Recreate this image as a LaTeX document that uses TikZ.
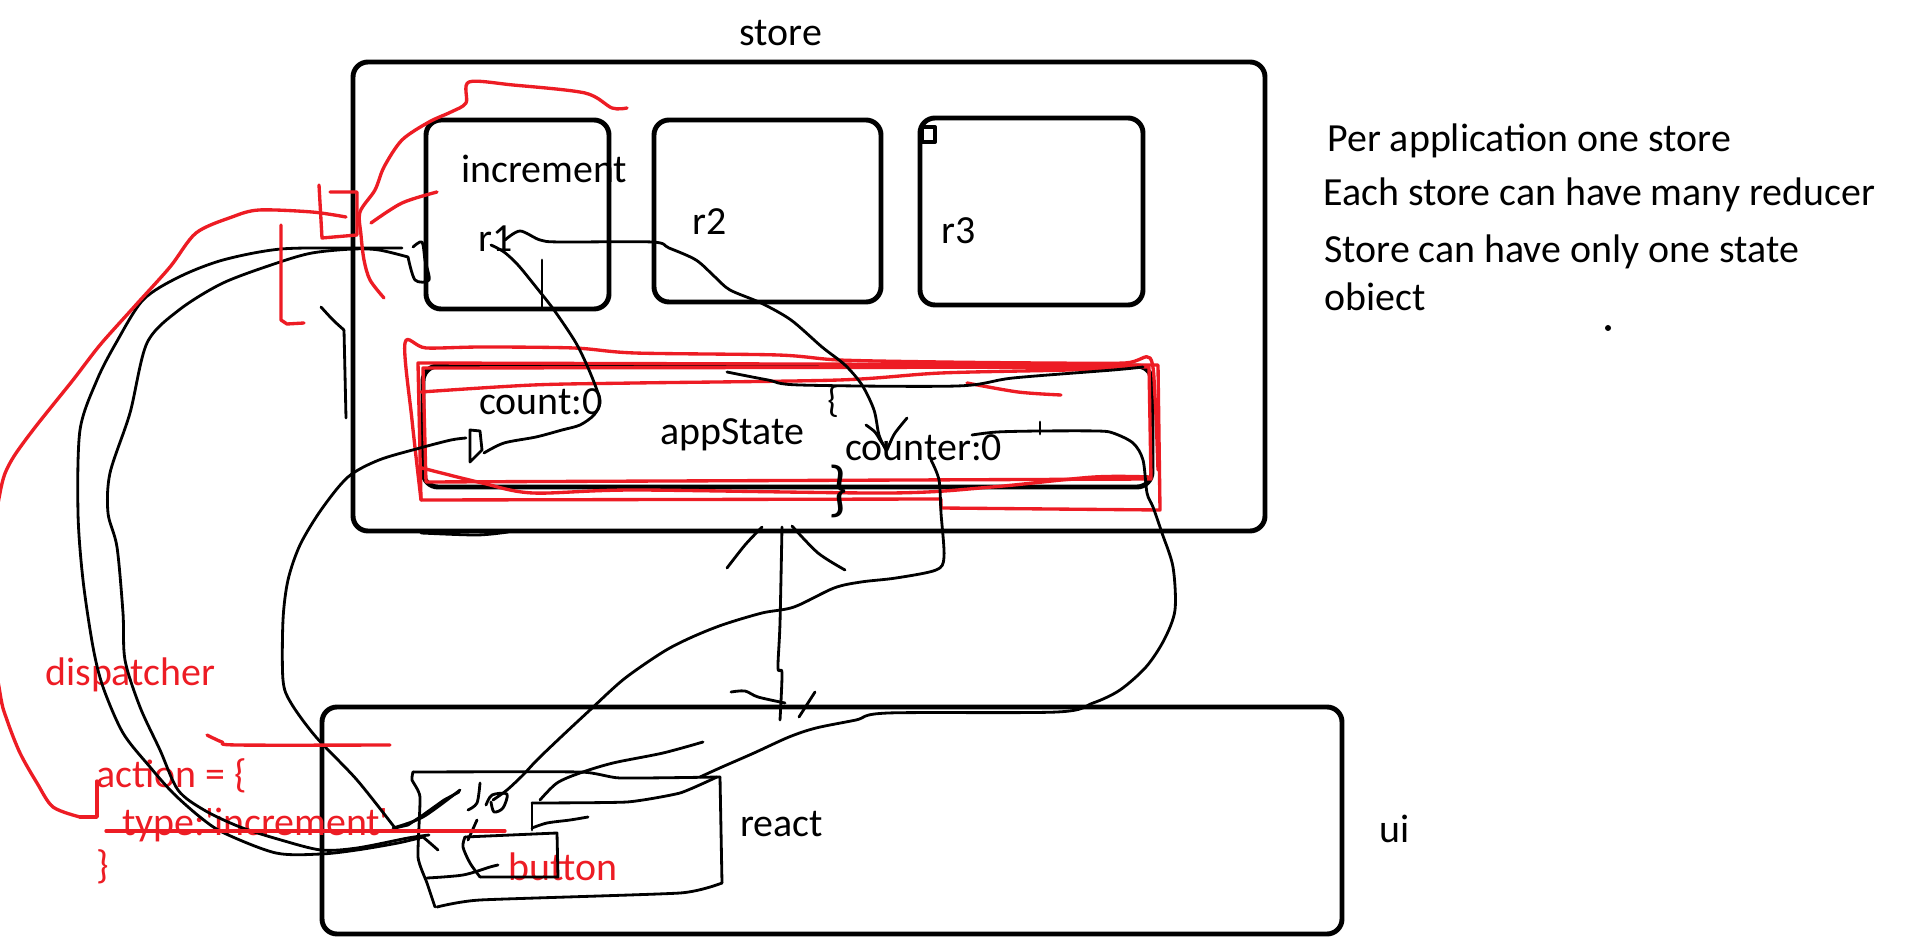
\documentclass[tikz,border=0pt]{standalone}
\usepackage{fontspec}
\setmainfont{Carlito}[Ligatures=TeXOff]
\definecolor{pred}{HTML}{ED1C24}
\begin{document}
\begin{tikzpicture}[x=0.02cm,y=-0.02cm, line cap=round, line join=round,
  box/.style={line width=2.8pt, rounded corners=0.3cm},
  ink/.style={line width=1.6pt},
  redink/.style={line width=1.9pt, draw=pred},
  lbl/.style={font=\fontsize{22.7}{27}\selectfont, inner sep=0pt, anchor=base west},
  rlbl/.style={lbl, text=pred}]
\fill[white] (0,0) rectangle (1917,952);
\useasboundingbox (0,0) rectangle (1917,952);

% ---------- boxes ----------
\draw[box] (353,62) rectangle (1265,531);
\draw[box] (426,120) rectangle (609,309);
\draw[box] (654,120) rectangle (881,302);
\draw[box] (920,118) rectangle (1143,305);
\draw[line width=2.2pt] (922,127) rectangle (935,142);
\draw[box] (423,366) rectangle (1152,487);
\draw[box] (322,707) rectangle (1342,934);

% ---------- red marks around appState ----------
\draw[redink] (418,363) -- (1158,365) -- (1160,510) -- (941,508) -- (941,499) -- (421,500) -- cycle;
\draw[redink] (423,368) -- (1149,367) -- (1151,479) -- (426,482) -- cycle;
\draw[redink] plot[smooth] coordinates {(421,500) (412,420) (405,343) (426,348) (482,347) (574,348) (635,353) (778,355) (839,360) (941,362) (1043,363) (1125,363) (1150,358) (1155,397) (1158,470)};
\draw[redink] plot[smooth] coordinates {(421,392) (533,385) (635,383) (839,380) (941,373) (1068,370) (1140,367)};
\draw[redink] plot[smooth] coordinates {(967,383) (1018,392) (1061,395)};
\draw[redink] plot[smooth] coordinates {(418,467) (482,483) (533,493) (635,490) (890,493) (992,487) (1094,477) (1150,477)};

% ---------- texts ----------
\node[lbl, anchor=base] (store) at (781,46) {store};
\node[lbl] (inc) at (461,183) {increment};
\node[lbl] (r1) at (478,252) {r1};
\node[lbl] (r2) at (692,235) {r2};
\node[lbl] (r3) at (941,244) {r3};
\node[lbl] (cnt) at (479,415) {count:0};
\node[lbl] (app) at (660,445) {appState};
\node[lbl] (ctr) at (845,461) {counter:0};
\node[lbl, font=\fontsize{21}{24}\selectfont] (lb) at (827,413) {\{};
\node[lbl, font=\fontsize{35}{38}\selectfont] (rb) at (828,510) {\}};
\node[lbl] (react) at (740,836) {react};
\node[lbl] (ui) at (1379,842) {ui};
\node[lbl] (t1) at (1327,152) {Per application one store};
\node[lbl] (t2) at (1323,206) {Each store can have many reducer};
\node[lbl] (t3) at (1324,263) {Store can have only one state};
\node[lbl] (t4) at (1324,311) {obiect};
\fill (1608,328) circle (3);

\node[rlbl] (disp) at (45,685) {dispatcher};
\node[rlbl] (act) at (96,787) {action = \{};
\node[rlbl] (typ) at (122,835) {type:'increment'};
\node[rlbl] (cl) at (96,878) {\}};
\node[rlbl] (btn) at (508,880) {button};

% ---------- black hand strokes ----------
% r1 -> counter arrow
\draw[ink] plot[smooth] coordinates {(505,240) (520,231) (540,240) (560,242) (652,242) (669,248) (696,260) (715,277) (730,290) (761,303) (791,320) (822,347) (845,365) (862,385) (874,410) (879,435) (886,450)};
\draw[ink] plot[smooth] coordinates {(866,425) (875,432) (880,440) (887,450)};
\draw[ink] plot[smooth] coordinates {(907,418) (895,433) (890,443) (887,450)};
% r1 vertical
\draw[ink] (542,260) -- (542,307);
% r1 -> count:0 -> down to button
\draw[ink] plot[smooth] coordinates {(491,245) (504,252) (518,265) (536,287) (554,310) (576,343) (589,370) (598,393) (600,403) (594,415) (580,425) (562,430) (536,437) (504,443) (484,453)};
\draw[ink] (470,430) -- (480,431) -- (482,450) -- (470,462) -- cycle;
\draw[ink] plot[smooth] coordinates {(466,438) (451,440) (420,448) (379,460) (348,477) (321,510) (300,545) (288,580) (283,620) (283,680) (291,703) (316,737) (357,780) (395,828)};
\draw[ink] (395,828) -- (408,825) -- (423,815) -- (444,800) -- (459,792);
% outer loop
\draw[ink] plot[smooth] coordinates {(402,248) (357,248) (281,249) (223,260) (179,277) (143,300) (116,343) (97,380) (80,430) (78,513) (83,580) (93,647) (103,687) (123,733) (150,767) (173,793) (200,817) (224,833) (276,853) (321,854) (357,850) (398,843) (423,837)};
% inner loop
\draw[ink] plot[smooth] coordinates {(408,257) (379,250) (353,249) (312,253) (277,263) (223,283) (179,310) (147,343) (130,413) (110,473) (108,513) (117,547) (123,613) (125,660) (140,707) (160,750) (178,790) (204,810) (240,827) (281,840) (321,850) (357,848) (408,838) (429,835)};
\draw[ink] plot[smooth] coordinates {(413,247) (422,242) (425,260) (429,280) (415,280) (408,257)};
% short line left of store
\draw[ink] plot[smooth] coordinates {(321,307) (333,320) (344,330)};
\draw[ink] (344,330) -- (346,418);
% appState top inner line
\draw[ink] plot[smooth] coordinates {(727,372) (768,380) (800,385) (957,386) (1013,378) (1113,370) (1143,367)};
% counter right -> down -> react
\draw[ink] (1040,422) -- (1040,434);
\draw[ink] plot[smooth] coordinates {(972,435) (997,432) (1040,431) (1097,431) (1113,433) (1133,443) (1143,460) (1147,493) (1153,507) (1162,533) (1173,567) (1175,610) (1164,640) (1146,667) (1120,690) (1093,703) (1057,712) (888,713) (856,720) (816,728) (789,737) (754,753) (722,767) (700,777)};
\draw[ink] plot[smooth] coordinates {(703,742) (663,753) (613,763) (580,773) (557,783) (540,800)};
% counter -> down -> button
\draw[ink] plot[smooth] coordinates {(931,460) (939,480) (941,513) (944,557) (936,570) (896,578) (861,582) (834,588) (794,607) (762,613) (722,625) (690,638) (663,652) (624,679) (590,710) (561,737) (537,760) (523,775) (507,790) (493,800)};
% central double arrow
\draw[ink] plot[smooth] coordinates {(782,527) (780,623) (778,668) (782,673) (780,720)};
\draw[ink] plot[smooth] coordinates {(727,568) (745,545) (762,527)};
\draw[ink] plot[smooth] coordinates {(792,526) (818,553) (845,570)};
\draw[ink] plot[smooth] coordinates {(731,692) (745,691) (758,697) (785,703)};
\draw[ink] (815,692) -- (799,717);
% small line under store
\draw[ink] plot[smooth] coordinates {(421,533) (477,535) (508,532)};

% ---------- ui inner sketch ----------
\draw[ink] plot[smooth, tension=0.3] coordinates {(413,772) (580,772) (620,778) (720,777)};
\draw[ink] (720,777) -- (722,883);
\draw[ink] plot[smooth, tension=0.3] coordinates {(722,883) (680,893) (480,900) (437,907)};
\draw[ink] plot[smooth, tension=0.3] coordinates {(413,772) (412,780) (420,797) (418,857) (427,883) (435,907)};
\draw[ink] (465,837) -- (557,833) -- (558,877) -- (480,877);
\draw[ink] plot[smooth] coordinates {(465,837) (463,847) (470,863) (480,877)};
\draw[ink] plot[smooth] coordinates {(427,878) (463,875) (490,867) (498,865)};
\draw[ink] (532,830) -- (532,803);
\draw[ink] plot[smooth, tension=0.3] coordinates {(532,803) (627,802) (680,793) (717,777)};
\draw[ink] plot[smooth] coordinates {(393,828) (423,817) (460,790)};
\draw[ink] plot[smooth] coordinates {(468,810) (477,803) (480,783)};
\draw[ink] (468,840) -- (477,820);
\draw[ink] plot[smooth] coordinates {(486,805) (492,795) (507,794) (503,808) (494,812) (491,802)};
\draw[ink] plot[smooth] coordinates {(532,828) (547,823) (570,820) (588,817)};
\draw[ink] plot[smooth] coordinates {(438,850) (430,843) (423,837)};

% ---------- red strokes ----------
\draw[redink] plot[smooth] coordinates {(627,108) (612,108) (585,93) (513,85) (469,82) (466,103) (451,112) (429,122) (402,140) (384,167) (375,190) (360,212) (361,235) (364,260) (370,280) (384,298)};
\draw[redink] (330,192) -- (357,192) -- (357,235) -- (322,238) -- (319,185);
\draw[redink] plot[smooth] coordinates {(371,223) (402,203) (437,192)};
\draw[redink] (281,225) -- (281,320) -- (287,324) -- (304,323);
\draw[redink] plot[smooth] coordinates {(346,217) (312,212) (259,210) (232,217) (196,233) (170,267) (134,307) (100,345) (73,380) (33,430) (10,463) (0,493) (-14,590) (0,693) (7,720) (20,753) (37,783) (53,807) (80,817)};
\draw[redink] (80,817) -- (97,817) -- (97,781);
\draw[redink] plot[smooth] coordinates {(207,735) (222,742) (237,745) (390,745)};
\draw[redink] (106,831) -- (505,831);
\end{tikzpicture}
\end{document}
